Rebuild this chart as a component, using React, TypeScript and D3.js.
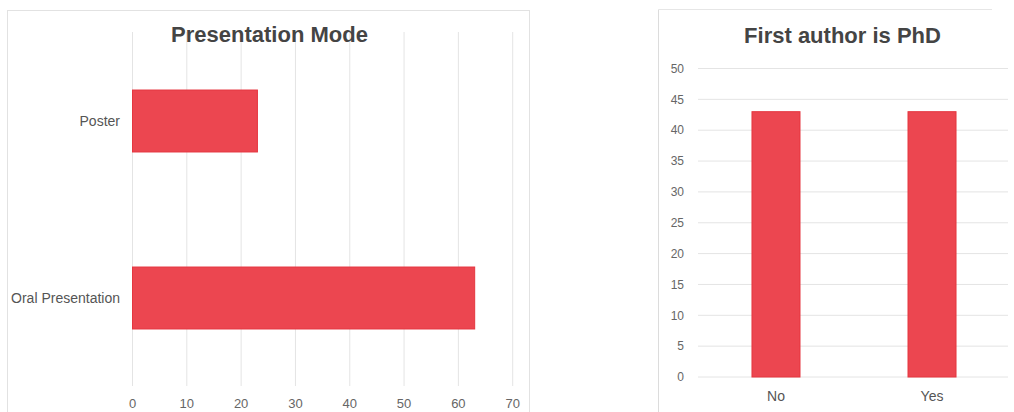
import React from "react";
import * as d3 from "d3";

const modeCategories = ["Poster", "Oral Presentation"];
const modeValues = [23, 63];
const modeTicks = [0, 10, 20, 30, 40, 50, 60, 70];

const phdCategories = ["No", "Yes"];
const phdValues = [43, 43];
const phdTicks = [0, 5, 10, 15, 20, 25, 30, 35, 40, 45, 50];

const BAR_FILL = "#ec4650";
const BAR_STROKE = "#e5363f";
const GRID = "#e4e4e4";
const LABEL = "#555";
const TICK = "#666";
const TITLE = "#444";
const FONT = "'Liberation Sans', Arial, sans-serif";

export default function App() {
  // Left chart scales
  const xL = d3.scaleLinear().domain([0, 70]).range([132.5, 512.7]);
  const yL = d3
    .scaleBand<string>()
    .domain(modeCategories)
    .range([32.5, 386.5])
    .paddingInner(0.65)
    .paddingOuter(0.325);

  // Right chart scales
  const yR = d3.scaleLinear().domain([0, 50]).range([377, 68.5]);
  const xR = d3
    .scaleBand<string>()
    .domain(phdCategories)
    .range([698, 1010])
    .paddingInner(0.6923)
    .paddingOuter(0.346);

  return (
    <svg
      width={1014}
      height={412}
      style={{ position: "absolute", left: 0, top: 0, background: "#fff" }}
      fontFamily={FONT}
    >
      {/* Left panel */}
      <rect x={7.5} y={10.5} width={522} height={430} fill="#fff" stroke="#e2e2e2" />
      {modeTicks.map((t) => (
        <line key={"gl" + t} x1={xL(t)} x2={xL(t)} y1={32} y2={386} stroke={GRID} strokeWidth={1} />
      ))}
      {modeCategories.map((c, i) => (
        <rect
          key={"bl" + c}
          x={xL(0)}
          y={yL(c)}
          width={xL(modeValues[i]) - xL(0)}
          height={yL.bandwidth()}
          fill={BAR_FILL}
          stroke={BAR_STROKE}
          strokeWidth={1}
        />
      ))}
      {modeCategories.map((c) => (
        <text
          key={"cl" + c}
          x={120}
          y={(yL(c) as number) + yL.bandwidth() / 2}
          dy="0.35em"
          textAnchor="end"
          fontSize={14}
          fill={LABEL}
        >
          {c}
        </text>
      ))}
      {modeTicks.map((t) => (
        <text key={"tl" + t} x={xL(t)} y={408} textAnchor="middle" fontSize={13} fill={TICK}>
          {t}
        </text>
      ))}
      <text x={269.5} y={42} textAnchor="middle" fontSize={22} fontWeight="bold" fill={TITLE}>
        Presentation Mode
      </text>

      {/* Right panel */}
      <line x1={658.5} x2={658.5} y1={9.5} y2={412} stroke="#dcdcdc" />
      <line x1={658.5} x2={992} y1={9.5} y2={9.5} stroke="#e6e6e6" />
      {phdTicks.map((t) => (
        <line key={"gr" + t} x1={698} x2={1008} y1={yR(t)} y2={yR(t)} stroke={GRID} strokeWidth={1} />
      ))}
      {phdCategories.map((c, i) => (
        <rect
          key={"br" + c}
          x={xR(c)}
          y={yR(phdValues[i])}
          width={xR.bandwidth()}
          height={yR(0) - yR(phdValues[i])}
          fill={BAR_FILL}
          stroke={BAR_STROKE}
          strokeWidth={1}
        />
      ))}
      {phdTicks.map((t) => (
        <text key={"tr" + t} x={684} y={yR(t)} dy="0.35em" textAnchor="end" fontSize={12} fill={TICK}>
          {t}
        </text>
      ))}
      {phdCategories.map((c) => (
        <text
          key={"cr" + c}
          x={(xR(c) as number) + xR.bandwidth() / 2}
          y={401}
          textAnchor="middle"
          fontSize={14}
          fill={LABEL}
        >
          {c}
        </text>
      ))}
      <text x={842.5} y={43} textAnchor="middle" fontSize={22} fontWeight="bold" fill={TITLE}>
        First author is PhD
      </text>
    </svg>
  );
}
